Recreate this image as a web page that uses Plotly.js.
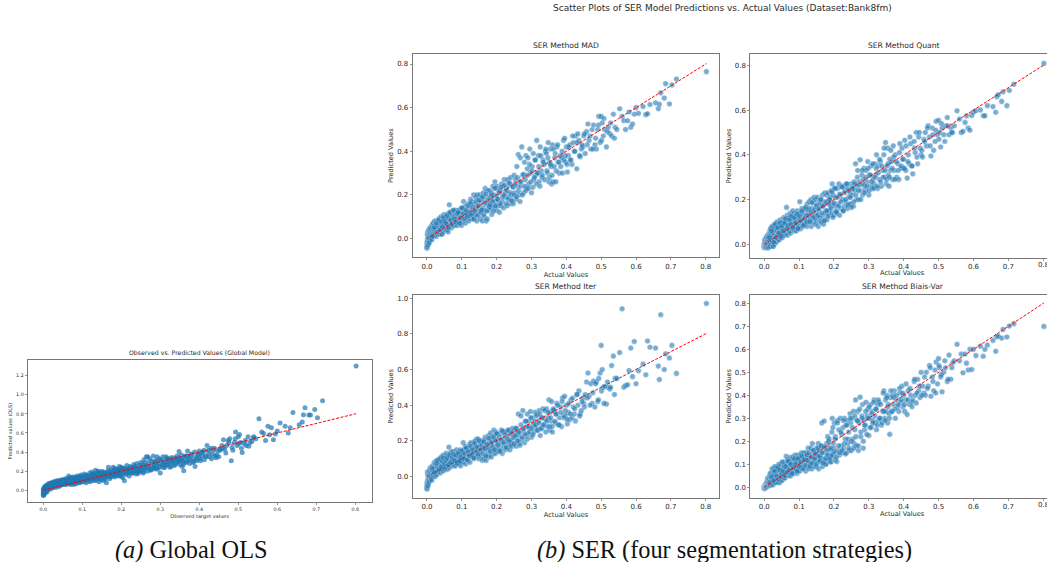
<!DOCTYPE html>
<html><head><meta charset="utf-8">
<script src="https://cdn.plot.ly/plotly-3.0.1.min.js"></script>
<style>html,body{margin:0;padding:0;background:#fff}#c{width:1047px;height:562px}</style>
</head><body><div id="c"></div>
<script>
const actual=[
0,0,0,0,.001,.001,.001,.002,.002,.002,
.002,.003,.003,.003,.004,.004,.005,.005,.006,.006,
.006,.007,.007,.008,.008,.009,.009,.01,.01,.011,
.012,.012,.013,.014,.014,.015,.016,.016,.017,.018,
.018,.019,.02,.02,.021,.022,.022,.023,.024,.025,
.025,.026,.027,.028,.028,.029,.03,.031,.032,.033,
.033,.034,.035,.036,.037,.038,.039,.04,.041,.042,
.043,.044,.045,.046,.047,.048,.049,.05,.05,.051,
.052,.053,.054,.055,.056,.057,.058,.059,.06,.061,
.062,.063,.064,.065,.066,.067,.068,.069,.07,.071,
.072,.073,.074,.075,.076,.077,.078,.079,.08,.081,
.082,.083,.084,.085,.086,.087,.088,.089,.09,.091,
.092,.093,.094,.095,.096,.097,.098,.099,.1,.101,
.102,.104,.105,.107,.108,.11,.111,.113,.114,.116,
.117,.119,.12,.122,.123,.125,.126,.128,.129,.131,
.132,.134,.135,.137,.138,.14,.141,.143,.144,.146,
.147,.149,.15,.152,.153,.155,.156,.158,.159,.161,
.162,.164,.165,.167,.168,.17,.172,.173,.174,.176,
.177,.179,.18,.182,.183,.185,.186,.188,.189,.191,
.192,.194,.195,.197,.198,.2,.201,.203,.204,.206,
.208,.21,.212,.214,.216,.218,.22,.222,.224,.226,
.228,.23,.232,.234,.236,.238,.24,.242,.244,.246,
.248,.25,.252,.254,.256,.258,.26,.262,.264,.266,
.268,.27,.272,.275,.277,.28,.282,.284,.286,.288,
.29,.292,.295,.297,.3,.302,.305,.307,.31,.312,
.315,.318,.32,.322,.325,.328,.33,.333,.336,.34,
.343,.346,.348,.35,.352,.354,.356,.358,.36,.362,
.365,.368,.37,.373,.376,.38,.383,.386,.389,.392,
.395,.398,.4,.403,.406,.41,.413,.416,.42,.423,
.426,.43,.433,.436,.44,.443,.447,.45,.454,.458,
.462,.465,.47,.474,.478,.482,.486,.49,.493,.497,
.5,.503,.506,.51,.515,.52,.525,.53,.535,.54,
.545,.553,.56,.565,.57,.576,.58,.585,.59,.595,
.6,.607,.62,.628,.633,.64,.656,.664,.667,.671,
.681,.685,.696,.703,.716,.802,
.015,.021,.027,.03,.034,.038,.041,.044,.047,.05,
.054,.058,.061,.065,.068,.072,.076,.079,.083,.087,
.09,.094,.097,.101,.105,.108,.112,.115,.118,.122,
.125,.128,.131,.134,.137,.141,.144,.147,.15,.154,
.157,.16,.163,.166,.169,.172,.176,.179,.182,.185,
.188,.191,.194,.197,.2,.203,.207,.21,.213,.217,
.22,.223,.227,.23,.233,.237,.24,.243,.247,.25,
.253,.257,.26,.263,.267,.27,.274,.277,.281,.284,
.288,.291,.294,.298,.301,.304,.308,.311,.314,.317,
.321,.324,.327,.331,.334,.338,.341,.344,.347,.351,
.355,.359,.363,.367,.371,.375,.379,.384,.388,.393,
.397,.402,.407,.412,.418,.424,.431,.438,.445,.452,
.46,.468,.476,.484,.492,.501,.508,.518,.527,.538];
const predOLS=[
-.055,-.04,-.02,.01,-.05,-.03,0,-.045,-.01,.02,
-.03,.02,-.01,.03,0,.04,-.02,.01,.03,-.01,
-.01,.02,.05,.01,-.02,.04,.03,-.01,.05,.02,
.01,.06,.03,.07,.04,.02,.06,.05,.01,.07,
.03,.07,.05,.08,.02,.06,.04,.07,.03,.05,
.06,.09,.04,.07,.08,.05,.09,.06,.03,.07,
.07,.1,.05,.08,.09,.06,.1,.04,.08,.06,
.09,.05,.1,.07,.11,.06,.08,.1,.07,.09,
.07,.11,.06,.09,.12,.08,.1,.06,.11,.08,
.08,.12,.1,.15,.07,.11,.09,.13,.06,.1,
.1,.07,.13,.09,.14,.08,.11,.06,.12,.1,
.09,.14,.07,.12,.1,.15,.08,.13,.11,.09,
.11,.15,.08,.13,.1,.16,.12,.09,.14,.11,
.13,.09,.17,.11,.15,.08,.16,.12,.1,.14,
.12,.18,.09,.16,.13,.19,.1,.17,.14,.11,
.14,.21,.1,.18,.12,.2,.15,.09,.19,.13,
.17,.11,.2,.14,.18,.1,.19,.15,.12,.17,
.08,.19,.15,.24,.17,.12,.21,.14,.19,.16,
.16,.24,.2,.14,.23,.18,.21,.15,.22,.19,
.21,.15,.25,.18,.23,.16,.24,.19,.13,.22,
.1,.23,.17,.26,.19,.22,.15,.25,.18,.23,
.24,.18,.27,.2,.25,.17,.28,.21,.19,.26,
.2,.29,.24,.27,.18,.32,.22,.29,.35,.25,
.35,.25,.33,.21,.31,.22,.36,.27,.23,.3,
.27,.35,.23,.33,.18,.31,.26,.35,.29,.24,
.35,.27,.33,.3,.24,.34,.29,.31,.26,.33,
.36,.3,.405,.27,.33,.37,.25,.3,.205,.34,
.29,.36,.41,.31,.33,.38,.29,.3,.25,.35,
.33,.37,.41,.31,.39,.4,.32,.36,.47,.42,
.35,.44,.38,.42,.36,.34,.41,.35,.42,.47,
.53,.43,.47,.52,.54,.31,.42,.5,.61,.47,
.56,.585,.5,.395,.49,.47,.56,.5,.51,.56,
.54,.75,.61,.595,.52,.67,.58,.655,.53,.59,
.62,.705,.67,.6,.655,.815,.685,.715,.79,.865,
.787,.787,.847,.76,.937,1.3,
.045,.07,.08,.055,.09,.07,.1,.075,.095,.085,
.095,.08,.105,.12,.09,.125,.095,.115,.105,.13,
.1,.125,.14,.11,.135,.12,.15,.13,.11,.145,
.16,.125,.15,.17,.135,.16,.12,.175,.145,.165,
.13,.18,.15,.2,.165,.14,.185,.17,.2,.155,
.175,.21,.165,.2,.145,.225,.185,.215,.17,.205,
.195,.23,.18,.215,.24,.2,.225,.175,.21,.24,
.22,.19,.26,.235,.2,.28,.215,.25,.29,.24,
.31,.22,.28,.25,.32,.27,.235,.3,.26,.33,
.28,.32,.25,.3,.34,.27,.32,.29,.34,.31,
.32,.27,.36,.3,.35,.28,.37,.33,.4,.31,
.38,.33,.36,.42,.35,.39,.33,.44,.37,.43,
.44,.39,.5,.45,.54,.49,.44,.52,.46,.55];
const predMAD=[
-.045,-.04,-.03,-.02,-.035,-.01,.02,-.025,0,.03,
-.015,.02,-.03,.01,.03,-.01,.04,0,.02,-.02,
-.02,.03,.01,-.01,.04,.02,.05,0,.03,.01,
0,.04,.02,.06,-.005,.03,.05,.01,.07,.03,
.02,.07,.04,.01,.06,.03,.08,.02,.05,.07,
.04,.08,.01,.06,.03,.07,.02,.08,.05,.03,
.05,.09,.02,.07,.04,.08,.03,.1,.06,.02,
.02,.08,.05,.1,.03,.07,.11,.04,.09,.06,
.05,.1,.04,.08,.06,.11,.04,.09,.07,.03,
.09,.05,.155,.07,.11,.06,.12,.08,.1,.05,
.07,.11,.09,.13,.06,.1,.12,.08,.06,.11,
.13,.07,.11,.09,.12,.06,.1,.13,.08,.11,
.08,.13,.1,.07,.12,.09,.14,.06,.11,.1,
.14,.08,.17,.1,.13,.07,.15,.11,.09,.12,
.1,.16,.08,.14,.12,.18,.09,.17,.11,.13,
.12,.2,.09,.16,.11,.19,.14,.08,.2,.13,
.18,.11,.15,.2,.09,.17,.13,.19,.08,.14,
.21,.1,.17,.23,.13,.08,.19,.09,.22,.15,
.16,.22,.13,.19,.14,.21,.11,.18,.24,.15,
.2,.14,.26,.17,.23,.13,.24,.18,.15,.22,
.12,.22,.15,.25,.17,.24,.14,.27,.19,.21,
.23,.15,.27,.19,.25,.16,.28,.2,.17,.24,
.16,.29,.21,.27,.18,.33,.24,.385,.2,.26,
.37,.24,.42,.29,.21,.35,.27,.38,.23,.32,
.37,.25,.41,.3,.21,.33,.39,.27,.36,.29,
.45,.3,.38,.26,.42,.31,.28,.36,.34,.4,
.39,.3,.44,.26,.35,.41,.33,.25,.43,.26,
.33,.39,.26,.42,.35,.3,.38,.37,.3,.45,
.46,.35,.42,.305,.38,.43,.36,.34,.44,.4,
.47,.32,.48,.45,.375,.41,.42,.47,.39,.49,
.525,.45,.41,.5,.52,.43,.41,.5,.56,.44,
.56,.53,.47,.5,.42,.51,.48,.47,.57,.51,
.5,.595,.56,.54,.5,.54,.58,.51,.525,.57,
.6,.574,.605,.568,.572,.614,.622,.595,.615,.668,
.644,.71,.617,.704,.731,.765,
.01,.05,.07,.03,.085,.04,.075,.055,.095,.08,
.07,.105,.05,.12,.085,.065,.13,.09,.075,.115,
.12,.07,.095,.14,.115,.09,.13,.1,.15,.105,
.16,.11,.145,.09,.125,.17,.105,.15,.175,.12,
.13,.19,.11,.16,.205,.125,.175,.145,.155,.2,
.17,.125,.23,.15,.195,.18,.21,.16,.235,.19,
.2,.245,.16,.22,.18,.255,.21,.175,.235,.2,
.25,.19,.28,.22,.17,.26,.2,.295,.24,.22,
.29,.23,.34,.26,.31,.235,.28,.36,.25,.3,
.33,.24,.38,.29,.35,.27,.41,.31,.37,.28,
.34,.29,.41,.37,.31,.43,.35,.33,.4,.36,
.38,.34,.42,.36,.47,.4,.44,.38,.43,.48,
.43,.47,.41,.46,.52,.45,.55,.49,.53,.46];
const predQuant=[
-.015,-.01,-.005,0,.005,.01,.02,-.012,.015,-.008,
-.012,.01,-.008,.015,0,.02,-.01,.005,.03,.01,
-.01,.02,.03,-.015,.01,0,.04,-.005,.02,.03,
-.015,.03,.01,.05,-.01,.02,.04,0,.06,.07,
-.01,.05,.02,.07,0,.04,.08,.01,.03,-.005,
.05,-.01,.08,.02,.06,0,.04,.07,.01,.03,
.03,.09,.01,.06,.1,.04,.08,.02,.07,.05,
.02,.08,.05,.11,.03,.07,.1,.04,.09,.06,
.03,.1,.05,.08,.12,.04,.09,.06,.11,.07,
.1,.05,.165,.07,.13,.04,.11,.08,.12,.06,
.06,.12,.08,.14,.05,.1,.13,.07,.11,.09,
.15,.07,.12,.09,.14,.06,.11,.08,.13,.1,
.06,.13,.09,.15,.07,.12,.1,.14,.08,.11,
.19,.07,.14,.1,.16,.08,.13,.11,.09,.15,
.09,.16,.13,.08,.18,.11,.15,.1,.19,.13,
.11,.2,.08,.16,.13,.19,.1,.21,.14,.12,
.2,.11,.17,.13,.21,.08,.15,.19,.1,.18,
.2,.1,.17,.22,.13,.09,.18,.11,.23,.15,
.14,.22,.11,.19,.23,.15,.2,.13,.21,.17,
.24,.14,.27,.18,.22,.13,.25,.17,.21,.15,
.14,.25,.18,.27,.13,.22,.16,.26,.2,.15,
.26,.17,.24,.19,.27,.16,.25,.21,.18,.23,
.18,.27,.22,.25,.17,.28,.24,.36,.2,.26,
.33,.2,.28,.378,.24,.31,.22,.29,.34,.26,
.24,.33,.28,.37,.22,.31,.26,.35,.25,.29,
.27,.36,.31,.4,.25,.35,.29,.37,.26,.33,
.4,.3,.455,.27,.35,.43,.31,.26,.38,.33,
.37,.29,.44,.33,.4,.3,.36,.29,.45,.34,
.43,.34,.38,.465,.33,.296,.4,.36,.45,.35,
.315,.46,.41,.5,.36,.48,.43,.4,.39,.47,
.5,.44,.53,.48,.395,.52,.42,.46,.55,.49,
.555,.5,.435,.52,.49,.53,.567,.49,.52,.5,
.53,.597,.56,.5,.505,.545,.575,.52,.51,.576,
.59,.597,.601,.575,.575,.62,.616,.59,.66,.669,
.639,.682,.62,.688,.716,.809,
.03,.06,.01,.09,.03,.075,.05,.095,.035,.08,
.06,.095,.115,.07,.085,.11,.09,.125,.075,.12,
.095,.135,.07,.125,.105,.15,.085,.115,.165,.1,
.13,.16,.1,.145,.185,.12,.155,.09,.175,.13,
.16,.12,.2,.14,.17,.105,.19,.15,.125,.18,
.2,.16,.235,.12,.185,.25,.145,.21,.17,.225,
.19,.255,.15,.23,.2,.27,.175,.24,.21,.165,
.25,.19,.27,.22,.3,.24,.265,.2,.33,.27,
.23,.3,.26,.34,.24,.31,.28,.36,.25,.3,
.34,.26,.32,.38,.28,.35,.3,.43,.33,.29,
.36,.3,.42,.34,.39,.29,.37,.33,.41,.35,
.38,.34,.44,.37,.48,.35,.43,.39,.5,.42,
.46,.52,.44,.49,.51,.47,.54,.46,.53,.5];
const predIter=[
-.065,-.07,-.06,-.04,-.05,-.03,.025,-.055,-.02,.01,
-.05,.01,-.03,.02,-.01,-.04,.03,-.02,.01,0,
-.03,.02,-.01,.04,.01,-.02,.03,0,.05,-.005,
-.01,.04,.02,.05,-.02,.03,.01,.06,0,.04,
.03,.06,.01,.05,.08,.02,.04,.07,0,.06,
.02,.08,.05,.09,.01,.06,.03,.07,.04,.08,
.08,.03,.1,.05,.09,.02,.07,.04,.11,.06,
.11,.05,.09,.03,.12,.07,.04,.1,.06,.08,
.05,.11,.07,.13,.06,.1,.04,.12,.08,.09,
.07,.165,.1,.05,.13,.08,.11,.06,.14,.09,
.13,.07,.11,.09,.14,.06,.1,.12,.07,.13,
.06,.12,.09,.15,.07,.11,.13,.08,.14,.1,
.11,.07,.14,.09,.15,.06,.12,.08,.13,.1,
.12,.19,.08,.15,.1,.17,.07,.13,.16,.09,
.09,.15,.12,.18,.08,.14,.19,.11,.16,.13,
.13,.19,.1,.16,.2,.11,.17,.21,.12,.15,
.21,.1,.17,.13,.19,.11,.15,.2,.09,.16,
.2,.1,.16,.22,.12,.09,.18,.14,.21,.11,
.23,.12,.19,.15,.245,.11,.2,.16,.22,.13,
.26,.15,.21,.13,.25,.17,.24,.14,.2,.16,
.14,.24,.18,.26,.13,.21,.16,.25,.19,.15,
.25,.16,.22,.19,.26,.15,.24,.2,.17,.27,
.18,.26,.22,.27,.17,.24,.2,.35,.23,.19,
.25,.34,.21,.37,.27,.19,.31,.23,.28,.35,
.24,.31,.27,.365,.22,.33,.29,.25,.36,.28,
.35,.26,.31,.37,.23,.33,.27,.38,.29,.32,
.38,.28,.33,.43,.26,.36,.31,.42,.25,.37,
.37,.3,.35,.41,.29,.33,.39,.28,.44,.345,
.45,.34,.4,.295,.36,.318,.43,.33,.39,.35,
.312,.46,.4,.48,.35,.37,.44,.41,.46,.53,
.58,.45,.52,.41,.535,.39,.53,.42,.55,.58,
.735,.6,.5,.505,.407,.5,.49,.622,.675,.55,
.55,.695,.94,.5,.51,.514,.594,.72,.56,.757,
.52,.593,.63,.57,.76,.725,.72,.619,.544,.907,
.6,.688,.664,.735,.578,.97,
.045,.025,.075,.09,.04,.1,.055,.085,.105,.07,
.09,.105,.065,.12,.08,.105,.125,.09,.12,.075,
.13,.085,.11,.145,.1,.13,.16,.095,.14,.115,
.17,.12,.15,.105,.185,.14,.165,.125,.2,.15,
.175,.13,.195,.155,.115,.18,.16,.215,.14,.19,
.17,.225,.15,.2,.24,.18,.22,.145,.205,.255,
.19,.235,.165,.21,.26,.2,.175,.245,.22,.185,
.23,.27,.2,.25,.175,.29,.22,.265,.24,.31,
.21,.28,.25,.33,.27,.235,.31,.29,.34,.26,
.3,.35,.27,.33,.29,.37,.25,.31,.36,.28,
.33,.28,.38,.31,.35,.4,.29,.36,.42,.33,
.37,.32,.41,.35,.44,.38,.46,.34,.42,.39,
.44,.4,.47,.52,.43,.48,.41,.53,.5,.46];
const predBiais=[
-.006,-.003,0,.003,-.005,.002,.005,-.002,0,.004,
0,.005,-.003,.01,0,.008,.003,.012,.005,.015,
0,.01,.02,.005,.015,.03,.01,.02,.04,.01,
.005,.02,.01,.04,.015,.03,.05,.01,.06,.025,
.01,.04,.02,.06,.03,.08,.015,.05,.03,.07,
.01,.05,.08,.02,.06,.04,.09,.03,.07,.02,
.02,.07,.04,.09,.03,.06,.08,.02,.05,.1,
.05,.09,.02,.07,.1,.03,.08,.04,.06,.11,
.03,.08,.05,.11,.04,.09,.06,.1,.04,.07,
.05,.135,.08,.1,.06,.12,.07,.11,.09,.05,
.06,.11,.08,.13,.05,.1,.07,.12,.09,.06,
.13,.06,.1,.08,.12,.07,.14,.09,.11,.08,
.08,.12,.06,.11,.14,.07,.1,.13,.09,.12,
.07,.14,.1,.15,.08,.13,.09,.12,.15,.11,
.12,.07,.15,.09,.14,.11,.17,.08,.13,.1,
.1,.17,.14,.08,.19,.12,.16,.09,.13,.11,
.15,.09,.17,.12,.14,.19,.08,.16,.11,.13,
.13,.18,.28,.09,.15,.11,.288,.12,.17,.1,
.1,.19,.14,.22,.12,.17,.21,.11,.16,.13,
.11,.24,.3,.14,.19,.17,.28,.12,.22,.15,
.112,.29,.16,.25,.14,.3,.18,.23,.15,.26,
.17,.3,.21,.27,.15,.29,.19,.24,.16,.32,
.28,.16,.3,.21,.33,.19,.25,.38,.18,.29,
.33,.16,.28,.392,.22,.31,.36,.17,.29,.25,
.27,.37,.31,.34,.225,.3,.36,.26,.33,.29,
.38,.28,.34,.25,.36,.29,.37,.3,.27,.33,
.42,.3,.38,.33,.4,.28,.36,.32,.23,.39,
.33,.4,.36,.42,.3,.38,.35,.33,.41,.37,
.44,.35,.4,.33,.38,.316,.42,.36,.4,.37,
.38,.46,.4,.367,.47,.42,.39,.5,.44,.41,
.4,.5,.44,.53,.396,.48,.42,.51,.545,.45,
.56,.52,.48,.415,.5,.52,.46,.575,.47,.54,
.55,.622,.55,.58,.498,.58,.54,.51,.6,.512,
.6,.573,.614,.57,.6,.619,.639,.592,.655,.658,
.649,.687,.654,.702,.712,.7,
.02,.045,.03,.07,.05,.085,.035,.075,.045,.06,
.07,.05,.09,.065,.115,.075,.1,.06,.085,.125,
.1,.07,.125,.09,.11,.135,.08,.12,.095,.14,
.115,.15,.09,.13,.105,.16,.125,.145,.1,.17,
.135,.115,.18,.15,.105,.175,.125,.16,.14,.2,
.125,.17,.14,.26,.155,.21,.13,.28,.18,.15,
.24,.16,.29,.19,.145,.27,.21,.17,.3,.2,
.26,.17,.31,.22,.29,.18,.34,.24,.3,.2,
.27,.33,.23,.3,.35,.26,.32,.28,.37,.31,
.34,.27,.38,.3,.36,.28,.41,.33,.29,.39,
.35,.3,.42,.33,.39,.34,.4,.36,.43,.38,
.41,.36,.45,.38,.43,.35,.47,.41,.44,.4,
.48,.43,.52,.46,.41,.53,.49,.55,.47,.52];
const refLine=[0,.802];
const panelTitles=["Observed vs. Predicted Values (Global Model)","SER Method MAD","SER Method Quant","SER Method Iter","SER Method Biais-Var"];
const xLabels=["Observed target values","Actual Values","Actual Values","Actual Values","Actual Values"];
const yLabels=["Predicted values (OLS)","Predicted Values","Predicted Values","Predicted Values","Predicted Values"];
const series=[predOLS,predMAD,predQuant,predIter,predBiais];

const W=1047,H=562,FONT="DejaVu Sans, sans-serif",INK="#2b2b2b";
const boxes=[
 {l:27.7,r:371.7,t:360,b:502.3,xr:[-.04,.842],yr:[-.126,1.364],dy:.2,tick:4.8,lab:5,tit:6.2,cut:false,sx:3,sy:3},
 {l:412.7,r:719.3,t:54,b:257.3,xr:[-.041,.839],yr:[-.086,.846],dy:.2,tick:7,lab:6.6,tit:7.6,cut:false,sx:1,sy:2},
 {l:750.3,r:1047,t:54,b:257.7,xr:[-.04,.811],yr:[-.06,.851],dy:.2,tick:7,lab:6.6,tit:7.6,cut:true,sx:1,sy:2},
 {l:412.7,r:719.3,t:294.7,b:498,xr:[-.041,.839],yr:[-.12,1.019],dy:.2,tick:7,lab:6.6,tit:7.6,cut:false,sx:1,sy:2},
 {l:750.3,r:1047,t:294.7,b:498,xr:[-.04,.811],yr:[-.047,.838],dy:.1,tick:7,lab:6.6,tit:7.6,cut:true,sx:1,sy:2}
];
const data=[],annotations=[],layout={
 width:W,height:H,margin:{l:0,r:0,t:0,b:0},paper_bgcolor:"#fff",plot_bgcolor:"#fff",showlegend:false,
 font:{family:FONT,color:INK},annotations
};
boxes.forEach((b,i)=>{
 const n=i===0?"":String(i+1);
 data.push({type:"scatter",mode:"markers",x:actual,y:series[i],xaxis:"x"+n,yaxis:"y"+n,hoverinfo:"skip",
  marker:i===0?{size:5,color:"#1f77b4",opacity:.7,line:{width:0}}
            :{size:5.6,color:"#1f77b4",opacity:.6,line:{width:.4,color:"#fff"}}});
 data.push({type:"scatter",mode:"lines",x:refLine,y:refLine,xaxis:"x"+n,yaxis:"y"+n,hoverinfo:"skip",
  line:{color:"#ff0000",width:1,dash:"3px,1.5px"}});
 const common={showgrid:false,zeroline:false,showline:true,linecolor:"#777",linewidth:1,ticks:"outside",ticklen:2,tickwidth:.7,tickcolor:"#666",
  tickfont:{family:FONT,size:b.tick,color:INK}};
 layout["xaxis"+n]=Object.assign({},common,{domain:[b.l/W,b.r/W],range:b.xr,dtick:.1,tick0:0,tickformat:".1f",anchor:"y"+n,mirror:true,
  title:b.cut?{text:""}:{text:xLabels[i],font:{family:FONT,size:b.lab,color:INK},standoff:b.sx}});
 layout["yaxis"+n]=Object.assign({},common,{domain:[1-b.b/H,1-b.t/H],range:b.yr,dtick:b.dy,tick0:0,tickformat:".1f",anchor:"x"+n,mirror:!b.cut,
  title:{text:yLabels[i],font:{family:FONT,size:b.lab,color:INK},standoff:b.sy}});
 const cx=b.cut?(750.3+1056)/2:(b.l+b.r)/2;
 annotations.push({xref:"paper",yref:"paper",x:cx/W,y:1-(b.t-2)/H,yanchor:"bottom",xanchor:"center",showarrow:false,
  text:panelTitles[i],font:{family:FONT,size:b.tit,color:INK}});
 if(b.cut){
  annotations.push({xref:"paper",yref:"paper",x:902/W,y:1-(b.b+15.7)/H,xanchor:"center",yanchor:"middle",showarrow:false,
   text:xLabels[i],font:{family:FONT,size:b.lab,color:INK}});
  annotations.push({xref:"x"+n,yref:"paper",x:.8,y:1-(b.b+7.4)/H,xanchor:"center",yanchor:"middle",showarrow:false,
   text:"0.8",font:{family:FONT,size:b.tick,color:INK}});
 }
});
annotations.push({xref:"paper",yref:"paper",x:722/W,y:1-8/H,xanchor:"center",yanchor:"middle",showarrow:false,
 text:"Scatter Plots of SER Model Predictions vs. Actual Values (Dataset:Bank8fm)",font:{family:FONT,size:9,color:INK}});
annotations.push({xref:"paper",yref:"paper",x:191/W,y:1-550/H,xanchor:"center",yanchor:"middle",showarrow:false,
 text:"<i>(a)</i> Global OLS",font:{family:"Liberation Serif, serif",size:24.3,color:"#111"}});
annotations.push({xref:"paper",yref:"paper",x:724/W,y:1-550/H,xanchor:"center",yanchor:"middle",showarrow:false,
 text:"<i>(b)</i> SER (four segmentation strategies)",font:{family:"Liberation Serif, serif",size:24.3,color:"#111"}});
Plotly.newPlot("c",data,layout,{staticPlot:true,displayModeBar:false});
</script></body></html>
